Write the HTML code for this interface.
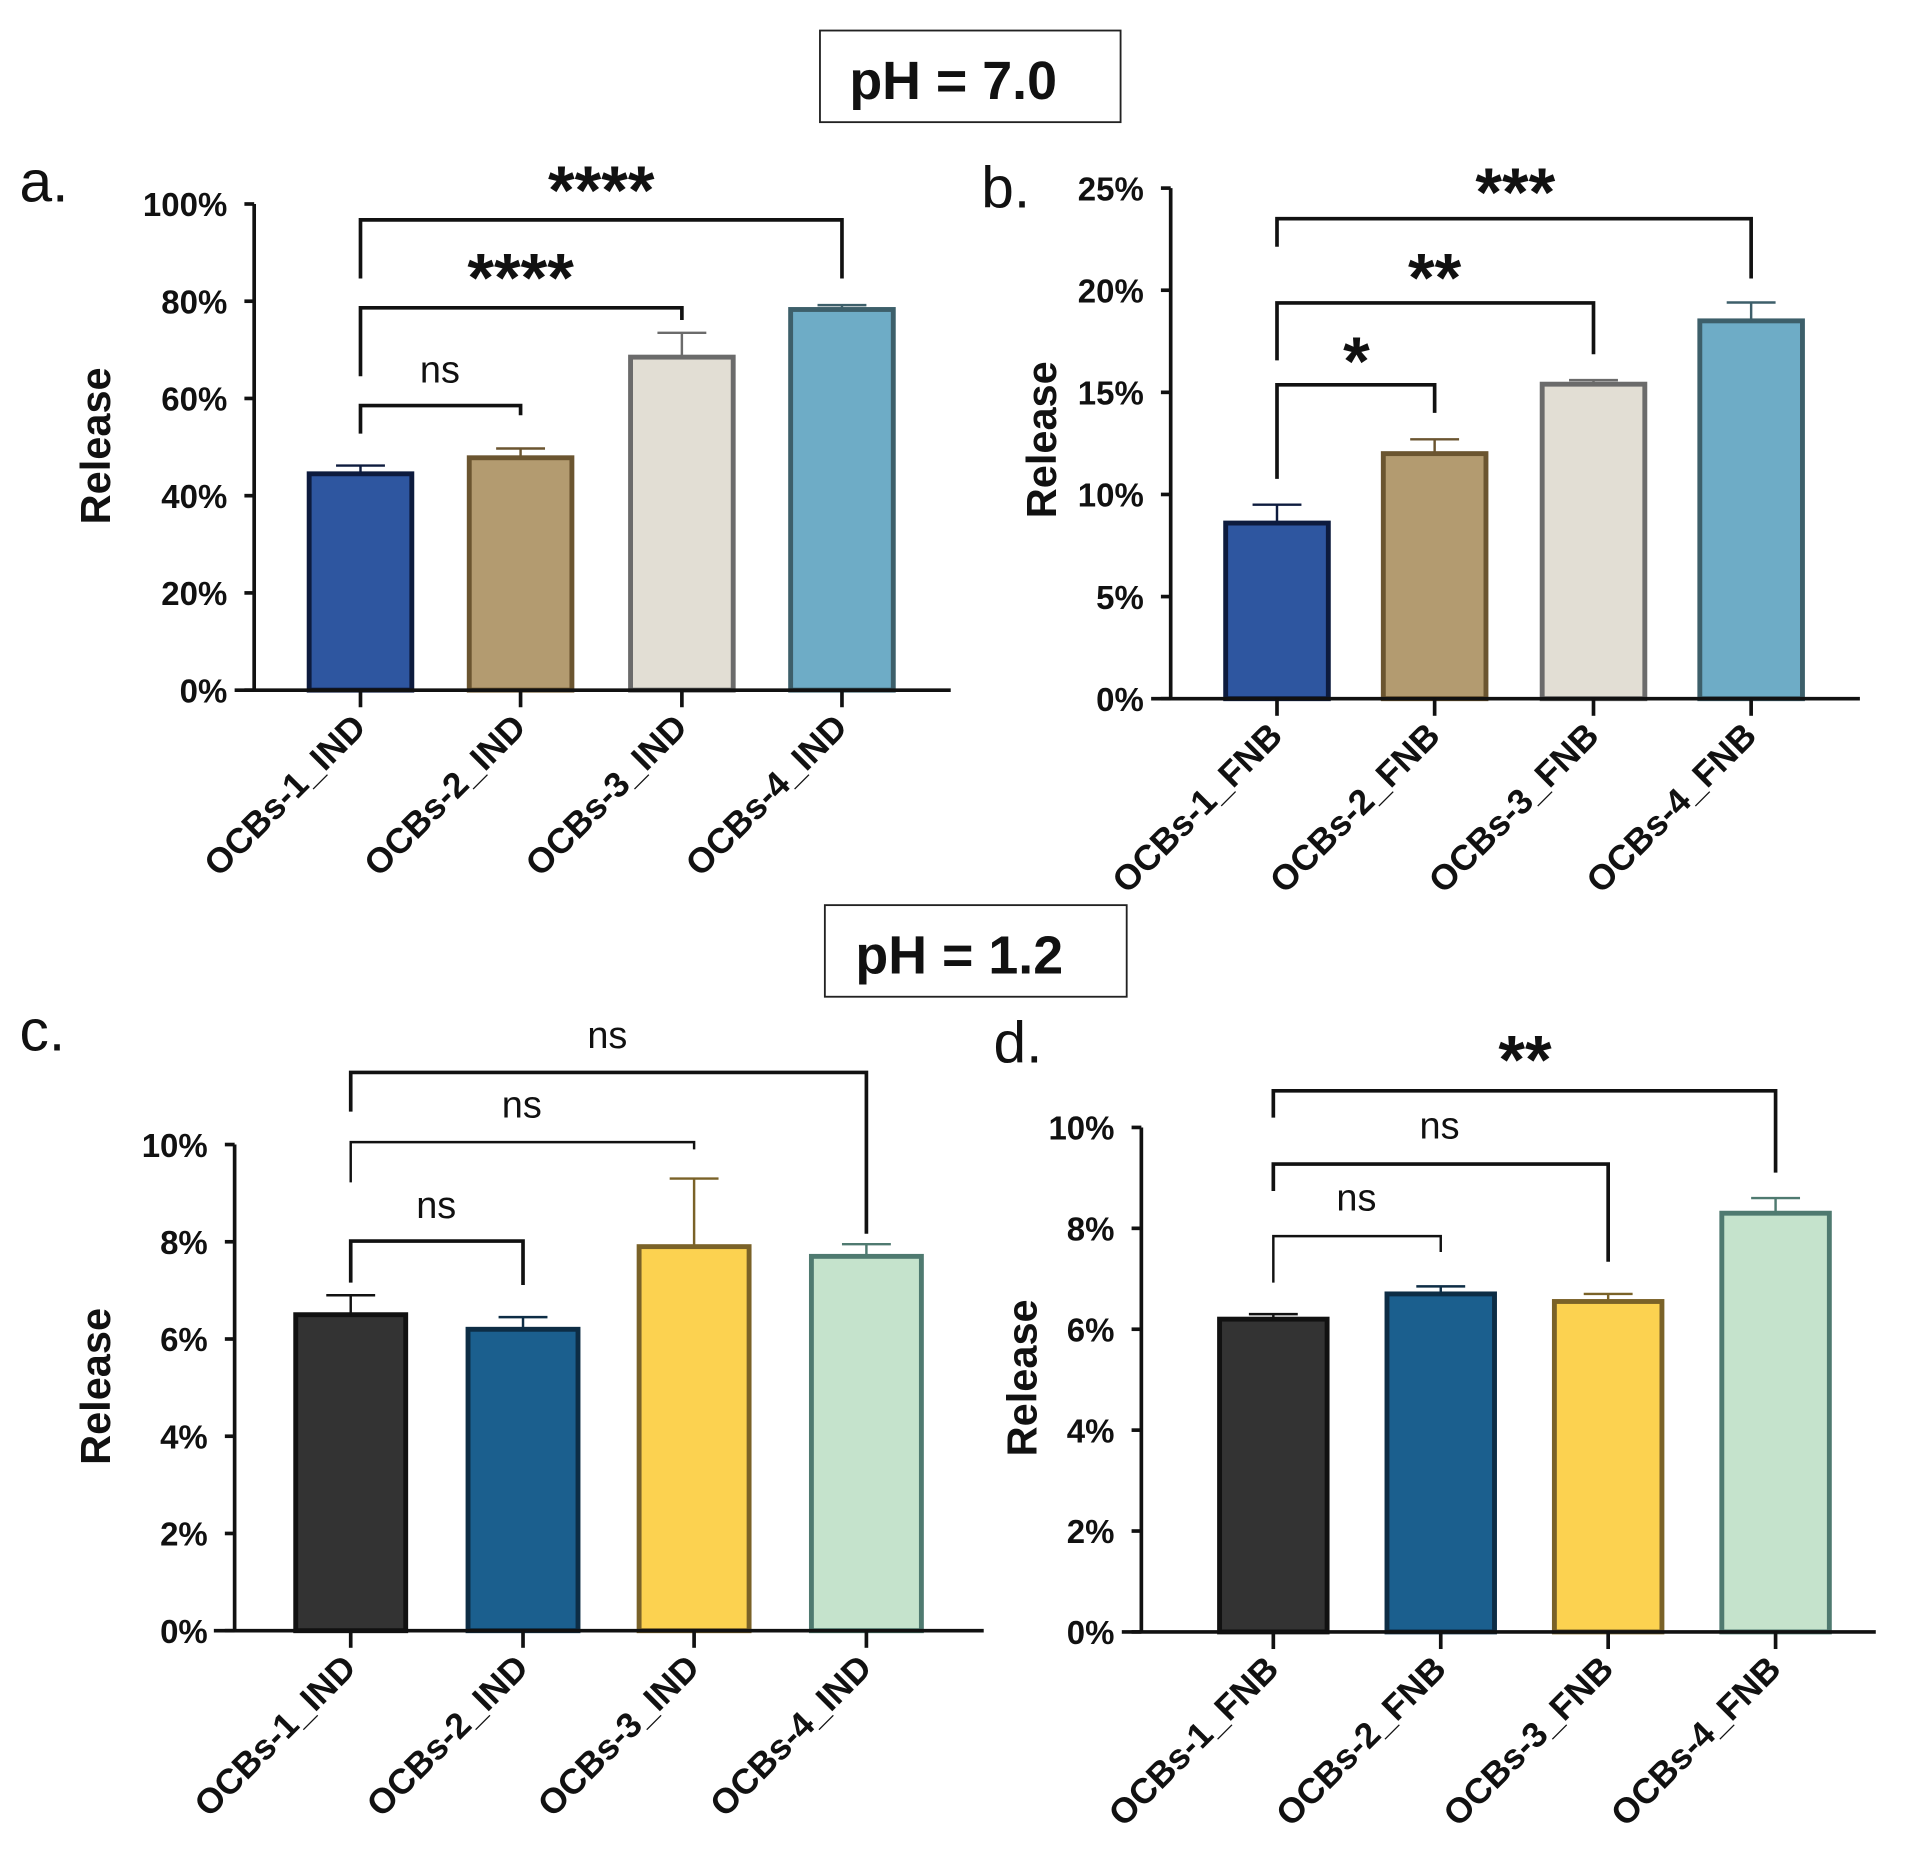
<!DOCTYPE html>
<html><head><meta charset="utf-8"><style>
body{margin:0;background:#fff}
svg{display:block}
text{font-family:"Liberation Sans",Arial,sans-serif;fill:#111}
</style></head><body>
<svg id="fig" width="1910" height="1875" viewBox="0 0 1563 1535" preserveAspectRatio="none" xmlns="http://www.w3.org/2000/svg">
<rect x="671" y="25" width="246" height="75" fill="#fff" stroke="#222" stroke-width="1.5"/>
<text x="780" y="81" font-size="44" font-weight="bold" text-anchor="middle">pH = 7.0</text>
<rect x="675" y="741" width="247" height="75" fill="#fff" stroke="#222" stroke-width="1.5"/>
<text x="785" y="797" font-size="44" font-weight="bold" text-anchor="middle">pH = 1.2</text>
</svg>
<script>
const catsIND=["OCBs-1_IND","OCBs-2_IND","OCBs-3_IND","OCBs-4_IND"];
const catsFNB=["OCBs-1_FNB","OCBs-2_FNB","OCBs-3_FNB","OCBs-4_FNB"];
const valsA=[44.5,47.8,68.5,78.3];
const errA=[46.2,49.7,73.5,79.2];
const valsB=[8.6,12.0,15.4,18.5];
const errB=[9.5,12.7,15.6,19.4];
const valsC=[6.5,6.2,7.9,7.7];
const errC=[6.9,6.45,9.3,7.95];
const valsD=[6.2,6.7,6.55,8.3];
const errD=[6.3,6.85,6.7,8.6];
const ticksA=[0,20,40,60,80,100];
const ticksB=[0,5,10,15,20,25];
const ticksCD=[0,2,4,6,8,10];
const sigA=["ns","****","****"];
const sigB=["*","**","***"];
const sigC=["ns","ns","ns"];
const sigD=["ns","ns","**"];
const NS="http://www.w3.org/2000/svg";
const svg=document.getElementById('fig');
function mk(tag,attrs,parent){const e=document.createElementNS(NS,tag);for(const k in attrs)e.setAttribute(k,attrs[k]);(parent||svg).appendChild(e);return e;}
const pal1=[["#2e56a0","#0d1b3e"],["#b39b70","#6b5530"],["#e2ded4","#6b6b6b"],["#6eacc6","#3d5f6a"]];
const pal2=[["#333333","#111111"],["#1b5f8e","#0d2d45"],["#fcd250","#7a6228"],["#c5e3cc","#4f7a70"]];
function panel(o){
  const g=mk('g',{});
  
  
  const y=v=>o.y0-(v/o.max)*(o.y0-o.yTop);
  const xs=o.cx;
  o.vals.forEach((v,i)=>{
    const b=mk('rect',{x:xs[i]-o.bw/2,y:y(v),width:o.bw,height:o.y0-y(v),fill:o.pal[i][0],stroke:o.pal[i][1],'stroke-width':4},g);
    
    
    const e=mk('path',{d:`M${xs[i]} ${y(v)}V${y(o.err[i])}M${xs[i]-20} ${y(o.err[i])}H${xs[i]+20}`,stroke:o.pal[i][1],'stroke-width':2,fill:'none'},g);
    
    
  });
  const ax=mk('path',{d:`M${o.ax} ${o.yTop}V${o.y0}M${o.xStart} ${o.y0}H${o.xEnd}`,stroke:'#111','stroke-width':3,fill:'none'},g);
  
  
  o.ticks.forEach(t=>{
    mk('line',{x1:o.ax-8,x2:o.ax,y1:y(t),y2:y(t),stroke:'#111','stroke-width':3},g);
    const tl=mk('text',{x:o.ax-22,y:y(t)+10,'font-size':27,'font-weight':'bold','text-anchor':'end'},g);
    tl.textContent=t+'%';
    
    
  });
  o.cats.forEach((c,i)=>{
    mk('line',{x1:xs[i],x2:xs[i],y1:o.y0,y2:o.y0+14,stroke:'#111','stroke-width':3},g);
    const tx=xs[i]+6,ty=o.y0+32;
    const t=mk('text',{x:tx,y:ty,'font-size':29,'font-weight':'bold','text-anchor':'end',transform:`rotate(-45 ${tx} ${ty})`},g);
    t.textContent=c;
    
    
  });
  const yl=mk('text',{x:o.ylx,y:o.yly,'font-size':34,'font-weight':'bold','text-anchor':'middle',transform:`rotate(-90 ${o.ylx} ${o.yly})`},g);
  yl.textContent='Release';
  
  
  const pl=mk('text',{x:o.lx,y:o.ly,'font-size':48},g);
  pl.textContent=o.id+'.';
  
  
  o.br.forEach((b,k)=>{
    const p=mk('path',{d:`M${xs[0]} ${b[1]}V${b[0]}H${xs[k+1]}V${b[2]}`,stroke:'#111','stroke-width':b[3],fill:'none'},g);
    
    
    const isStar=o.sig[k].indexOf('*')>=0;
    const fs=isStar?56:31;
    const base=isStar?b[5]+25:b[5]+10;
    const t=mk('text',{x:b[4],y:base,'font-size':fs,'font-weight':isStar?'bold':'normal','text-anchor':'middle'},g);
    t.textContent=o.sig[k];
    
    
  });
}
panel({id:'a',cats:catsIND,vals:valsA,err:errA,ticks:ticksA,max:100,y0:565,yTop:167,ax:208,xStart:192,xEnd:778,cx:[295,426,558,689],bw:84,pal:pal1,ylx:90,yly:365,lx:16,ly:165,sig:sigA,
 br:[[332,355,340,3,360,303],[252,308,262,3,426,222],[180,228,228,3,492,150]]});
panel({id:'b',cats:catsFNB,vals:valsB,err:errB,ticks:ticksB,max:25,y0:572,yTop:154,ax:958,xStart:942,xEnd:1522,cx:[1045,1174,1304,1433],bw:84,pal:pal1,ylx:864,yly:360,lx:803,ly:170,sig:sigB,
 br:[[315,392,338,3,1110,290],[248,295,290,3,1174,222],[179,202,228,3,1240,152]]});
panel({id:'c',cats:catsIND,vals:valsC,err:errC,ticks:ticksCD,max:10,y0:1335,yTop:937,ax:192,xStart:175,xEnd:805,cx:[287,428,568,709],bw:90,pal:pal2,ylx:90,yly:1135,lx:16,ly:860,sig:sigC,
 br:[[1016,1050,1052,3,357,987],[935,968,941,2,427,905],[878,910,1010,3,497,848]]});
panel({id:'d',cats:catsFNB,vals:valsD,err:errD,ticks:ticksCD,max:10,y0:1336,yTop:923,ax:934,xStart:918,xEnd:1535,cx:[1042,1179,1316,1453],bw:88,pal:pal2,ylx:848,yly:1128,lx:813,ly:870,sig:sigD,
 br:[[1012,1050,1025,2,1110,981],[953,975,1033,3,1178,922],[893,915,960,3,1248,862]]});
</script>
</body></html>
